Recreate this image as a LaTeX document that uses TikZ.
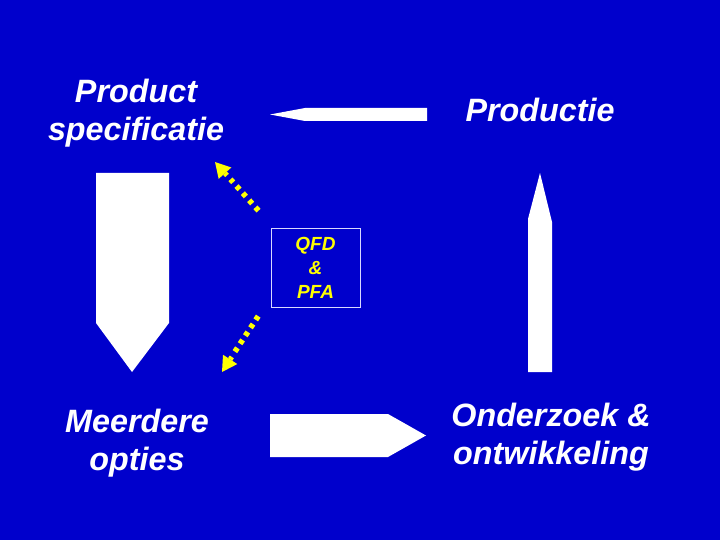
\documentclass[tikz,border=0pt]{standalone}
\usepackage{fontspec}
\setmainfont{Liberation Sans}
\usetikzlibrary{calc}
\definecolor{bg}{RGB}{0,0,204}
\definecolor{yel}{RGB}{255,255,0}
\tikzset{
  lbl/.style={text=white, font=\fontsize{32.3}{38.5}\selectfont\bfseries\itshape, align=center, inner sep=0pt},
  blk/.style={fill=white, draw=none},
  dotline/.style={draw=yel, line width=5.5pt, dash pattern=on 4.5pt off 5pt, shorten <=-2.25pt, shorten >=-2.25pt},
  stem/.style={draw=yel, line width=5pt},
  qbox/.style={draw=white!85!blue, line width=0.8pt, minimum width=89pt, minimum height=79pt,
    text=yel, font=\fontsize{19}{24}\selectfont\bfseries\itshape, align=center, inner sep=0pt}
}
\begin{document}
\begin{tikzpicture}[x=1pt,y=-1pt]
\fill[bg] (0,0) rectangle (720,540);
\useasboundingbox (0,0) rectangle (720,540);
% text nodes
\node[lbl] (spec) at (136,113) {Product\\specificatie};
\node[lbl] (prod) at (540,110) {Productie};
\node[lbl] (opt) at (137,443) {Meerdere\\opties};
\node[lbl] (ond) at (551,437) {Onderzoek \&\\ontwikkeling};
\node[qbox] (qfd) at (315.5,267.5) {QFD\\\&\\PFA};
% block arrows
\fill[blk] (270,114.5) -- (305,108) -- (427,108) -- (427,121) -- (305,121) -- cycle;
\fill[blk] (96,173) -- (169,173) -- (169,323) -- (132,372) -- (96,323) -- cycle;
\fill[blk] (270,414) -- (388,414) -- (426,435.5) -- (388,457) -- (270,457) -- cycle;
\fill[blk] (528,372) -- (552,372) -- (552,222) -- (540,173) -- (528,219) -- cycle;
% dotted arrows
\coordinate (d1s) at (257,209);
\coordinate (d1m) at (232,181);
\coordinate (d1t) at (215,162);
\coordinate (d2s) at (257,318);
\coordinate (d2m) at (236,350);
\coordinate (d2t) at (222,372);
\draw[dotline] (d1s) -- (d1m);
\draw[dotline] (d2s) -- (d2m);
\coordinate (d1b) at ($(d1t)!15pt!(d1s)$);
\coordinate (d2b) at ($(d2t)!15pt!(d2s)$);
\coordinate (d1e) at ($(d1t)!18pt!(d1s)$);
\coordinate (d2e) at ($(d2t)!18pt!(d2s)$);
\draw[stem] (d1e) -- (d1b);
\draw[stem] (d2e) -- (d2b);
\fill[yel] (d1t) -- ($(d1b)!8.5pt!90:(d1t)$) -- ($(d1b)!8.5pt!-90:(d1t)$) -- cycle;
\fill[yel] (d2t) -- ($(d2b)!8.5pt!90:(d2t)$) -- ($(d2b)!8.5pt!-90:(d2t)$) -- cycle;
\end{tikzpicture}
\end{document}
